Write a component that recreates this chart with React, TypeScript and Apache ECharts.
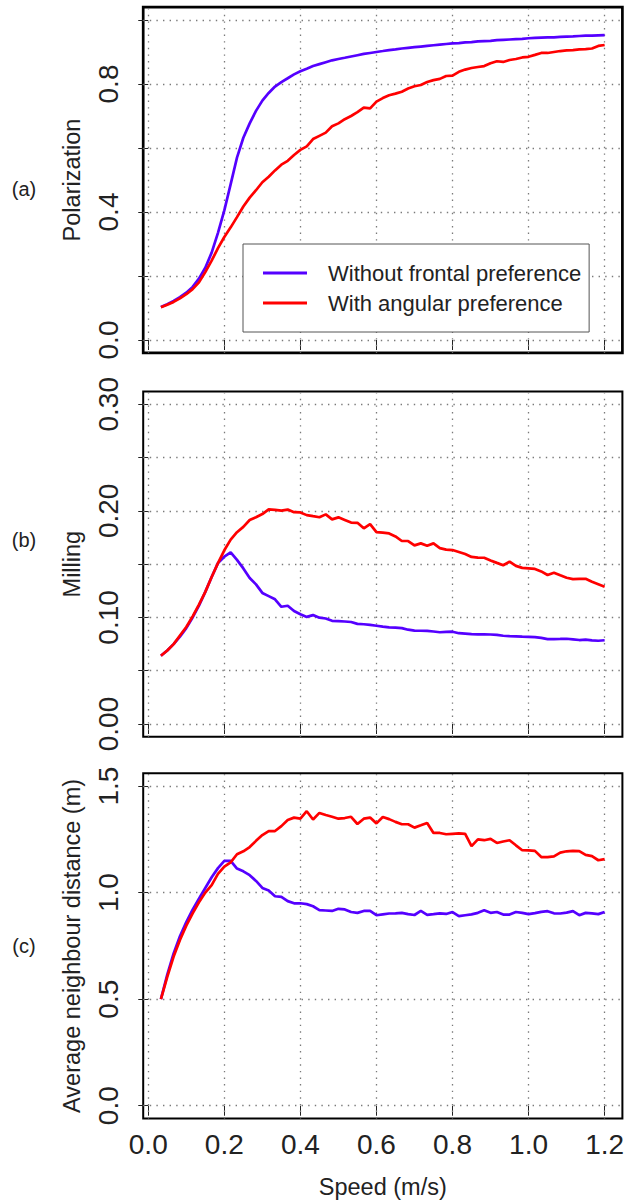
import React, { useEffect, useRef } from "react";
import * as echarts from "echarts";

const speeds = [
  0.0333, 0.05, 0.0667, 0.0833, 0.1, 0.1167, 0.1333, 0.15, 0.1667, 0.1833,
  0.2, 0.2167, 0.2333, 0.25, 0.2667, 0.2833, 0.3, 0.3167, 0.3333, 0.35,
  0.3667, 0.3833, 0.4, 0.4167, 0.4333, 0.45, 0.4667, 0.4833, 0.5, 0.5167,
  0.5333, 0.55, 0.5667, 0.5833, 0.6, 0.6167, 0.6333, 0.65, 0.6667, 0.6833,
  0.7, 0.7167, 0.7333, 0.75, 0.7667, 0.7833, 0.8, 0.8167, 0.8333, 0.85,
  0.8667, 0.8833, 0.9, 0.9167, 0.9333, 0.95, 0.9667, 0.9833, 1.0, 1.0167,
  1.0333, 1.05, 1.0667, 1.0833, 1.1, 1.1167, 1.1333, 1.15, 1.1667, 1.1833,
  1.2,
];

const polarWithout = [
  0.103, 0.112, 0.122, 0.134, 0.148, 0.166, 0.192, 0.226, 0.273, 0.335,
  0.405, 0.487, 0.57, 0.632, 0.677, 0.716, 0.748, 0.772, 0.792, 0.806,
  0.818, 0.83, 0.84, 0.848, 0.856, 0.862, 0.868, 0.874, 0.878, 0.882,
  0.886, 0.89, 0.894, 0.897, 0.9, 0.903, 0.906, 0.908, 0.911, 0.913,
  0.915, 0.917, 0.919, 0.921, 0.923, 0.925, 0.927, 0.928, 0.93, 0.931,
  0.933, 0.934, 0.935, 0.937, 0.938, 0.939, 0.94, 0.941, 0.943, 0.944,
  0.945, 0.946, 0.946, 0.947, 0.948, 0.949, 0.95, 0.951, 0.951, 0.952,
  0.953,
];
const polarAngular = [
  0.102, 0.11, 0.119, 0.13, 0.143, 0.159, 0.18, 0.212, 0.248, 0.287,
  0.322, 0.352, 0.384, 0.417, 0.445, 0.468, 0.493, 0.51, 0.53, 0.548,
  0.56, 0.578, 0.594, 0.605, 0.628, 0.638, 0.648, 0.668, 0.677, 0.69,
  0.7, 0.712, 0.726, 0.724, 0.745, 0.756, 0.765, 0.77, 0.776, 0.786,
  0.793, 0.797, 0.806, 0.812, 0.816, 0.825, 0.826, 0.838, 0.845, 0.85,
  0.853, 0.856, 0.865, 0.871, 0.869, 0.875, 0.878, 0.883, 0.885, 0.891,
  0.897, 0.897, 0.9, 0.903, 0.905, 0.906, 0.908, 0.909, 0.911, 0.919,
  0.922,
];
const millWithout = [
  0.064, 0.069, 0.075, 0.082, 0.09, 0.1, 0.111, 0.124, 0.138, 0.151,
  0.157, 0.161, 0.154, 0.146, 0.137, 0.131, 0.123, 0.12, 0.117, 0.11,
  0.111, 0.106, 0.103, 0.1005, 0.1022, 0.0998, 0.099, 0.0968, 0.0965, 0.0962,
  0.0957, 0.094, 0.0936, 0.093, 0.0922, 0.0913, 0.0906, 0.0905, 0.09, 0.0885,
  0.0876, 0.0875, 0.0874, 0.0868, 0.0861, 0.0864, 0.0866, 0.0852, 0.0848, 0.0843,
  0.0841, 0.0841, 0.084, 0.0836, 0.0828, 0.0825, 0.0823, 0.082, 0.0818, 0.0815,
  0.0808, 0.0797, 0.0797, 0.0798, 0.08, 0.0795, 0.0788, 0.0792, 0.0785, 0.0781,
  0.0786,
];
const millAngular = [
  0.064, 0.069, 0.075, 0.083, 0.091, 0.101, 0.112, 0.124, 0.138, 0.151,
  0.163, 0.173, 0.18, 0.185, 0.1914, 0.194, 0.197, 0.2014, 0.201, 0.2002,
  0.2012, 0.1988, 0.1985, 0.196, 0.195, 0.194, 0.1967, 0.192, 0.1939, 0.1915,
  0.189, 0.1888, 0.1836, 0.1876, 0.18, 0.1795, 0.1788, 0.176, 0.1717, 0.1717,
  0.1676, 0.1695, 0.1673, 0.1695, 0.165, 0.1636, 0.1632, 0.1614, 0.1595, 0.1568,
  0.1562, 0.156, 0.1535, 0.1512, 0.149, 0.1523, 0.1484, 0.1465, 0.146, 0.1455,
  0.1432, 0.1398, 0.142, 0.1395, 0.1372, 0.136, 0.1362, 0.1363, 0.1335, 0.1312,
  0.1288,
];
const distWithout = [
  0.5, 0.615, 0.715, 0.795, 0.862, 0.92, 0.972, 1.022, 1.072, 1.115,
  1.149, 1.149, 1.113, 1.1, 1.082, 1.055, 1.022, 1.01, 0.983, 0.98,
  0.96, 0.95, 0.95, 0.946, 0.936, 0.918, 0.916, 0.914, 0.924, 0.921,
  0.909, 0.905, 0.914, 0.914, 0.894, 0.898, 0.902, 0.903, 0.905, 0.899,
  0.895, 0.914, 0.896, 0.899, 0.903, 0.9, 0.909, 0.89, 0.894, 0.898,
  0.905, 0.917, 0.905, 0.909, 0.897, 0.897, 0.909, 0.905, 0.899, 0.904,
  0.91, 0.913, 0.903, 0.902, 0.906, 0.913, 0.894, 0.905, 0.903, 0.899,
  0.909,
];
const distAngular = [
  0.5, 0.605, 0.7, 0.778, 0.845, 0.903, 0.955, 1.0, 1.035, 1.088,
  1.122, 1.142, 1.18, 1.194, 1.214, 1.243, 1.27, 1.289, 1.289, 1.312,
  1.341, 1.352, 1.347, 1.382, 1.343, 1.374, 1.364, 1.356, 1.347, 1.35,
  1.356, 1.322, 1.347, 1.352, 1.325, 1.355, 1.345, 1.332, 1.321, 1.321,
  1.305, 1.316, 1.327, 1.28, 1.28, 1.274, 1.276, 1.278, 1.276, 1.218,
  1.25, 1.246, 1.252, 1.233, 1.24, 1.246, 1.222, 1.199, 1.198, 1.196,
  1.167, 1.167, 1.17, 1.188, 1.194, 1.196, 1.195, 1.177, 1.171, 1.152,
  1.157,
];

const xTicks = [0, 0.2, 0.4, 0.6, 0.8, 1.0, 1.2];
const polarTicks = [0, 0.2, 0.4, 0.6, 0.8, 1.0];
const polarLabels = [0, 0.4, 0.8];
const millTicks = [0, 0.05, 0.1, 0.15, 0.2, 0.25, 0.3];
const millLabels = [0, 0.1, 0.2, 0.3];
const distTicks = [0, 0.5, 1.0, 1.5];

const seriesNames = ["Without frontal preference", "With angular preference"];
const panelTags = ["(a)", "(b)", "(c)"];
const yTitles = ["Polarization", "Milling", "Average neighbour distance (m)"];
const xTitle = "Speed (m/s)";

const BLUE = "#5500ff";
const RED = "#ff0000";
const FONT = "'Liberation Sans', Arial, Helvetica, sans-serif";
const INK = "#222222";
const GRIDLINE = "#7a7a7a";

const panels = [
  { top: 7.2, height: 345.6, border: 2.7, ymin: -0.04, ymax: 1.04, ticks: polarTicks, labels: polarLabels, dec: 1, a: polarWithout, b: polarAngular },
  { top: 391.5, height: 345.3, border: 2, ymin: -0.012, ymax: 0.312, ticks: millTicks, labels: millLabels, dec: 2, a: millWithout, b: millAngular },
  { top: 773.3, height: 345.2, border: 2, ymin: -0.06, ymax: 1.56, ticks: distTicks, labels: distTicks, dec: 1, a: distWithout, b: distAngular },
];

const GRID_LEFT = 143.2;
const GRID_WIDTH = 479.2;

function buildOption() {
  const grid = panels.map((p) => ({
    left: GRID_LEFT,
    top: p.top,
    width: GRID_WIDTH,
    height: p.height,
    show: true,
    borderColor: "#000",
    borderWidth: p.border,
    backgroundColor: "transparent",
    containLabel: false,
    outerBoundsMode: "none",
  }));
  const xAxis = panels.map((p, i) => ({
    type: "value",
    gridIndex: i,
    min: -0.0133,
    max: 1.2467,
    axisLine: { show: false },
    axisTick: { show: true, inside: false, length: 10, customValues: xTicks, lineStyle: { color: INK, width: 1 } },
    axisLabel: {
      show: i === 2,
      customValues: xTicks,
      formatter: (v: number) => v.toFixed(1),
      fontSize: 28,
      fontFamily: FONT,
      color: INK,
      margin: 12,
    },
    splitLine: { show: false },
  }));
  const yAxis = panels.map((p, i) => ({
    type: "value",
    gridIndex: i,
    min: p.ymin,
    max: p.ymax,
    axisLine: { show: false },
    axisTick: { show: true, inside: false, length: 10, customValues: p.ticks, lineStyle: { color: INK, width: 1 } },
    axisLabel: {
      show: true,
      customValues: p.labels,
      rotate: 90,
      formatter: (v: number) => v.toFixed(p.dec),
      fontSize: 28,
      fontFamily: FONT,
      color: INK,
      margin: 21,
    },
    splitLine: { show: false },
  }));
  const series: any[] = [];
  panels.forEach((p, i) => {
    [
      { name: seriesNames[0], data: p.a, color: BLUE },
      { name: seriesNames[1], data: p.b, color: RED },
    ].forEach((s, k) => {
      const item: any = {
        type: "line",
        name: s.name,
        xAxisIndex: i,
        yAxisIndex: i,
        z: 3 + k,
        data: speeds.map((x, j) => [x, s.data[j]]),
        showSymbol: false,
        symbol: "none",
        lineStyle: { width: 2.7, color: s.color },
        itemStyle: { color: s.color },
        emphasis: { disabled: true },
      };
      if (k === 0) {
        item.markLine = {
          silent: true,
          z: 1,
          symbol: "none",
          precision: 4,
          label: { show: false },
          emphasis: { disabled: true },
          lineStyle: { type: [1.4, 5.2], color: GRIDLINE, width: 1.3, opacity: 1 },
          data: [
            ...xTicks.map((v) => ({ xAxis: v })),
            ...p.ticks.map((v) => ({ yAxis: v })),
          ],
        };
      }
      series.push(item);
    });
  });

  const graphic: any[] = [];
  const tagY = [189, 540, 946];
  panels.forEach((p, i) => {
    graphic.push({
      type: "text",
      x: 24,
      y: tagY[i],
      style: { text: panelTags[i], fontSize: 20, fontFamily: FONT, fill: INK, align: "center", verticalAlign: "middle" },
    });
    graphic.push({
      type: "text",
      x: 72,
      y: p.top + p.height / 2,
      rotation: Math.PI / 2,
      style: { text: yTitles[i], fontSize: 23.5, fontFamily: FONT, fill: INK, align: "center", verticalAlign: "middle" },
    });
  });
  graphic.push({
    type: "text",
    x: GRID_LEFT + GRID_WIDTH / 2,
    y: 1187,
    style: { text: xTitle, fontSize: 23.5, fontFamily: FONT, fill: INK, align: "center", verticalAlign: "middle" },
  });

  return {
    animation: false,
    backgroundColor: "#ffffff",
    grid,
    xAxis,
    yAxis,
    series,
    graphic,
    legend: {
      show: true,
      orient: "vertical",
      left: 243,
      top: 244,
      z: 10,
      data: seriesNames,
      icon: "rect",
      itemWidth: 44,
      itemHeight: 3,
      itemGap: 4,
      padding: [16, 8, 16, 20],
      backgroundColor: "#ffffff",
      borderColor: "#555555",
      borderWidth: 1,
      borderRadius: 0,
      selectedMode: false,
      textStyle: { fontSize: 22, fontFamily: FONT, color: INK, lineHeight: 26, padding: [0, 0, 0, 16] },
    },
  };
}

export default function App() {
  const ref = useRef<HTMLDivElement>(null);
  useEffect(() => {
    if (!ref.current) return;
    const chart = echarts.init(ref.current, null, { renderer: "svg" });
    chart.setOption(buildOption() as any);
    return () => chart.dispose();
  }, []);
  return (
    <div
      ref={ref}
      style={{ position: "absolute", left: 0, top: 0, width: 628, height: 1203, background: "#ffffff" }}
    />
  );
}
